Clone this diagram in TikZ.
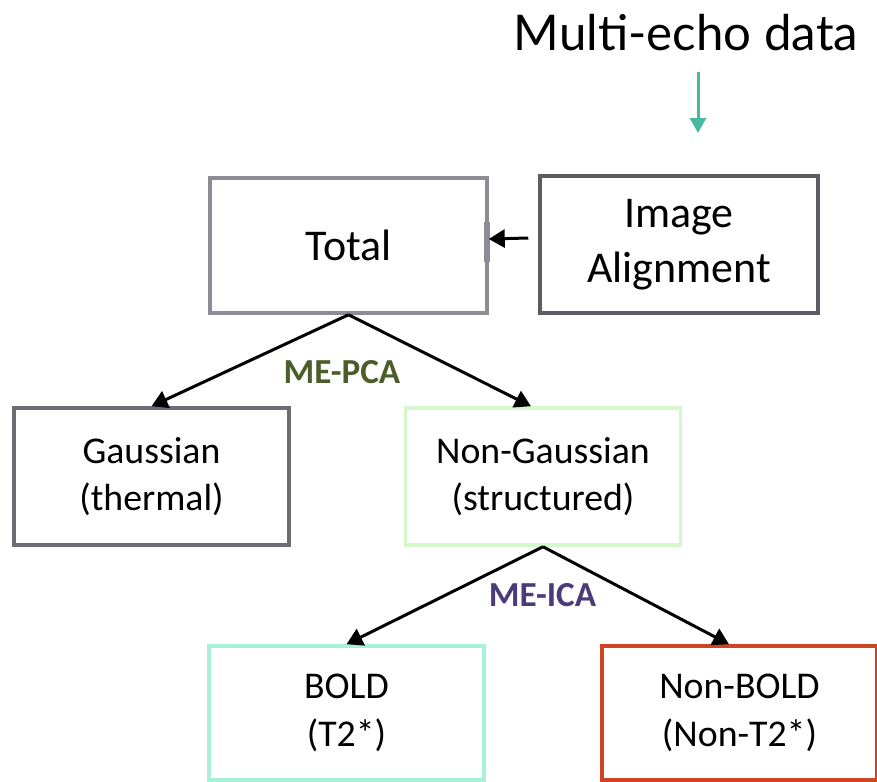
\documentclass[tikz,border=0pt]{standalone}
\usepackage{fontspec}
\setmainfont{Carlito}
\newfontfamily\latofont{Lato}
\usepackage{xcolor}
\usepackage{tikz}
\usetikzlibrary{positioning, arrows.meta, calc}

\definecolor{totalgray}{HTML}{8C8C94}
\definecolor{aligngray}{HTML}{5C5C64}
\definecolor{gaussgray}{HTML}{6C6C74}
\definecolor{nongaussgreen}{HTML}{D4F8CC}
\definecolor{boldaqua}{HTML}{A8F0D8}
\definecolor{nonboldred}{HTML}{D04424}
\definecolor{pcagreen}{HTML}{4B5E2A}
\definecolor{icapurple}{HTML}{4A3C7A}
\definecolor{feedteal}{HTML}{4AB8A0}

\begin{document}
\begin{tikzpicture}[
        % Styles for the decomposition boxes
        component/.style={
            rectangle, draw, fill=white, line width=0.07cm,
            minimum width=5.5cm, minimum height=2.7cm,
            align=center, font=\fontsize{21.5}{27}\selectfont
        },
        bigcomponent/.style={
            component, font=\fontsize{25}{31}\selectfont
        },
        method/.style={
            font=\bfseries\fontsize{20}{24}\selectfont
        },
        split/.style={
            line width=0.06cm, -{Triangle[length=0.32cm, width=0.36cm]}
        },
        feed/.style={
            feedteal, line width=0.06cm, -{Triangle[length=0.3cm, width=0.32cm]}
        }
    ]

    \useasboundingbox (0,0) rectangle (17.54,-15.64);

    % 1. INPUT DATA
    \node[inner sep=0pt, font=\latofont\fontsize{28}{34}\selectfont] (Multi) at (13.72,-0.66) {Multi-echo data};
    \coordinate (feedIn) at (13.96,-2.66);
    \draw[feed] ([xshift=0.24cm, yshift=-0.4cm]Multi.south) -- (feedIn);

    % 2. TOP ROW
    \node[bigcomponent, draw=totalgray, minimum width=5.54cm] (Total) at (6.97,-4.91) {Total};
    \node[bigcomponent, draw=aligngray, minimum width=5.56cm, minimum height=2.74cm] (Align) at (13.58,-4.89) {Image\\Alignment};

    % Thicker patch on the right edge of Total
    \draw[totalgray, line width=0.13cm] ([xshift=-0.04cm, yshift=0.48cm]Total.east) -- ([xshift=-0.04cm, yshift=-0.33cm]Total.east);
    \draw[split] ([xshift=-0.2cm, yshift=0.13cm]Align.west) -- ([yshift=0.13cm]Total.east);

    % 3. ME-PCA SPLIT
    \node[component, draw=gaussgray, minimum height=2.74cm] (Gauss) at (3.03,-9.53) {Gaussian\\(thermal)};
    \node[component, draw=nongaussgreen, minimum height=2.74cm] (NonGauss) at (10.86,-9.53) {Non-Gaussian\\(structured)};

    \draw[split] (Total.south) -- (Gauss.north);
    \draw[split] (Total.south) -- ([xshift=-0.24cm]NonGauss.north);
    \node[method, text=pcagreen] (PCA) at (6.84,-7.44) {ME-PCA};

    % 4. ME-ICA SPLIT
    \node[component, draw=boldaqua, minimum height=2.68cm] (Bold) at (6.93,-14.26) {BOLD\\(T2*)};
    \node[component, draw=nonboldred, minimum height=2.68cm] (NonBold) at (14.79,-14.26) {Non-BOLD\\(Non-T2*)};

    \draw[split] (NonGauss.south) -- (Bold.north);
    \draw[split] (NonGauss.south) -- ([xshift=-0.21cm]NonBold.north);
    \node[method, text=icapurple] (ICA) at (10.85,-11.9) {ME-ICA};

\end{tikzpicture}
\end{document}
